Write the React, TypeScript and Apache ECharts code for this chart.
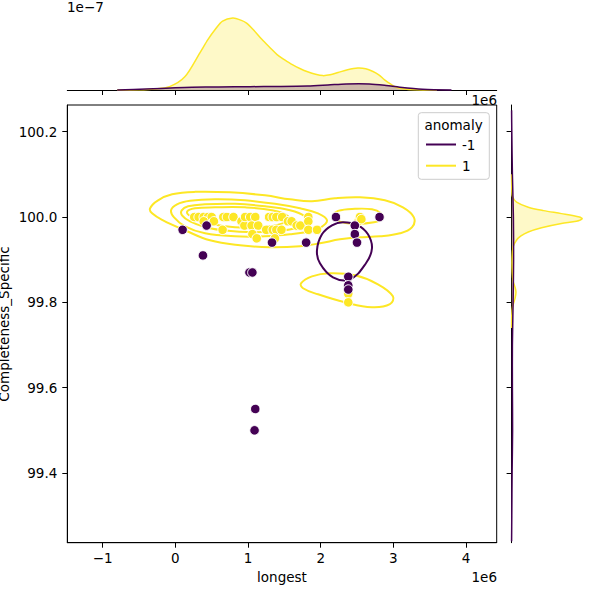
import React, { useEffect, useRef } from "react";
import * as echarts from "echarts";

// ---- data (longest in units of 1e6) ----
const anomalyNormal: number[][] = [
  [0.26, 100.0], [0.32, 100.0], [0.39, 100.0], [0.45, 100.0], [0.5, 100.0], [0.39, 99.99], [0.53, 99.99],
  [0.66, 100.0], [0.71, 100.0], [0.8, 100.0], [0.65, 99.97], [0.91, 99.99], [0.95, 99.98], [0.96, 100.0],
  [1.03, 100.0], [1.1, 100.0], [1.05, 99.98], [1.14, 99.98], [1.06, 99.96], [1.12, 99.95], [1.25, 99.97],
  [1.29, 100.0], [1.34, 100.0], [1.39, 100.0], [1.34, 99.97], [1.39, 99.97], [1.37, 99.95], [1.46, 99.97],
  [1.47, 100.0], [1.55, 99.99], [1.6, 99.99], [1.67, 99.98], [1.72, 99.98], [1.83, 100.0], [1.83, 99.99],
  [1.83, 99.97], [1.95, 99.97], [2.52, 99.99], [2.54, 100.0], [2.56, 99.995], [2.38, 99.82], [2.38, 99.8],
];
const anomalyOutlier: number[][] = [
  [0.1, 99.97], [0.43, 99.98], [0.38, 99.91], [1.33, 99.94], [1.02, 99.87], [1.06, 99.87], [1.8, 99.94],
  [2.21, 100.0], [2.81, 100.0], [2.47, 99.98], [2.47, 99.96], [2.5, 99.94], [2.38, 99.86], [2.38, 99.84],
  [2.38, 99.83], [1.1, 99.55], [1.09, 99.5],
];

// KDE contour lines
const contourNormalA: number[][] = [
  [-0.348, 100.0204], [-0.238, 100.0391], [-0.045, 100.0532], [0.271, 100.059], [0.752, 100.0578],
  [1.234, 100.0508], [1.578, 100.0415], [1.88, 100.0368], [2.197, 100.0438], [2.541, 100.0461],
  [2.884, 100.0391], [3.132, 100.0227], [3.283, 99.9993], [3.256, 99.9759], [3.091, 99.9618],
  [2.816, 99.9548], [2.513, 99.9525], [2.265, 99.9478], [1.99, 99.9384], [1.715, 99.9314],
  [1.303, 99.929], [0.89, 99.9337], [0.477, 99.9454], [0.133, 99.9689], [-0.169, 99.9922], [-0.32, 100.0087],
];
const contourNormalB: number[][] = [
  [-0.059, 100.0157], [0.023, 100.0297], [0.202, 100.0379], [0.546, 100.0415], [0.959, 100.0391],
  [1.371, 100.0309], [1.715, 100.0204], [1.963, 100.0087], [2.087, 99.9923], [2.004, 99.9759],
  [1.853, 99.9665], [1.578, 99.9595], [1.234, 99.9548], [0.821, 99.9548], [0.409, 99.9618],
  [0.133, 99.9782], [-0.018, 99.9993],
];
const contourNormalC: number[][] = [
  [0.088, 100.0157], [0.175, 100.0251], [0.409, 100.0297], [0.821, 100.0309], [1.234, 100.0251],
  [1.578, 100.0157], [1.784, 100.0016], [1.812, 99.9876], [1.647, 99.9735], [1.303, 99.9653],
  [0.89, 99.9653], [0.477, 99.9735], [0.202, 99.9899], [0.092, 100.004],
];
const contourNormalD: number[][] = [
  [0.161, 100.0122], [0.271, 100.0204], [0.546, 100.0227], [0.959, 100.0227], [1.33, 100.0157],
  [1.551, 100.0016], [1.509, 99.9876], [1.234, 99.977], [0.821, 99.9759], [0.45, 99.9852], [0.23, 99.9993],
];
const contourNormalF: number[][] = [
  [2.169, 100.004], [2.238, 100.0145], [2.472, 100.0192], [2.706, 100.018], [2.83, 100.0087],
  [2.857, 99.997], [2.733, 99.9876], [2.472, 99.9841], [2.265, 99.9888], [2.182, 99.997],
];
const contourNormalG: number[][] = [
  [1.729, 99.8447], [1.88, 99.861], [2.128, 99.8681], [2.472, 99.8634], [2.788, 99.8424],
  [2.994, 99.8143], [2.953, 99.7956], [2.706, 99.7885], [2.334, 99.8002], [1.963, 99.8189], [1.757, 99.833],
];
const contourOutlier: number[][] = [
  [2.307, 99.9876], [2.513, 99.9806], [2.651, 99.9595], [2.706, 99.9267], [2.623, 99.8916],
  [2.403, 99.8541], [2.169, 99.8588], [1.99, 99.8916], [1.949, 99.922], [2.018, 99.9595], [2.156, 99.9806],
];

// marginal densities (units of 1e-7 for x, arbitrary for y)
const topNormal: number[][] = [
  [-0.8, 0], [-0.5, 0.02], [-0.29, 0.1], [-0.08, 0.33], [0.13, 1.3], [0.34, 3.7], [0.45, 5.0], [0.55, 6.0],
  [0.65, 6.8], [0.79, 7.1], [0.9, 6.9], [0.98, 6.6], [1.08, 5.9], [1.19, 5.0], [1.3, 4.2], [1.4, 3.5],
  [1.5, 3.0], [1.61, 2.5], [1.72, 2.1], [1.82, 1.8], [1.93, 1.55], [2.03, 1.42], [2.13, 1.5], [2.24, 1.73],
  [2.37, 2.0], [2.51, 2.17], [2.62, 2.1], [2.72, 1.83], [2.8, 1.5], [2.88, 1.0], [2.96, 0.6], [3.04, 0.27],
  [3.15, 0.1], [3.3, 0.03], [3.6, 0],
];
const topOutlier: number[][] = [
  [-0.8, 0], [-0.4, 0.1], [0.0, 0.22], [0.23, 0.27], [0.6, 0.3], [1.03, 0.33], [1.4, 0.35], [1.82, 0.4],
  [2.1, 0.5], [2.35, 0.6], [2.67, 0.6], [2.9, 0.45], [3.09, 0.27], [3.4, 0.07], [3.8, 0],
];
const rightNormal: number[][] = [
  [0, 100.1], [0.03, 100.06], [0.1, 100.047], [0.5, 100.035], [1.67, 100.023], [3.2, 100.015],
  [5.0, 100.008], [6.8, 100.0], [7.07, 99.996], [6.5, 99.99], [5.0, 99.985], [3.0, 99.975], [1.67, 99.965],
  [0.9, 99.955], [0.47, 99.945], [0.15, 99.93], [0.05, 99.9], [0.07, 99.87], [0.15, 99.85], [0.35, 99.835],
  [0.44, 99.824], [0.35, 99.81], [0.1, 99.79], [0.02, 99.77], [0, 99.74],
];
const rightOutlier: number[][] = [
  [0, 100.25], [0.02, 100.2], [0.08, 100.1], [0.18, 100.0], [0.2, 99.9], [0.15, 99.8], [0.08, 99.7],
  [0.08, 99.6], [0.1, 99.5], [0.05, 99.4], [0.02, 99.3], [0, 99.24],
];

const xTicks = [-1, 0, 1, 2, 3, 4];
const yTicks = [99.4, 99.6, 99.8, 100.0, 100.2];
const legendTitle = "anomaly";
const legendLabels = ["-1", "1"];

const X_MIN = -1.487, X_MAX = 4.4225, Y_MIN = 99.2366, Y_MAX = 100.2626;
const PURPLE = "#440154", YELLOW = "#fde725";
const FONT = "DejaVu Sans";
const FS = 13.5;

function shapeSeries(pts: number[][], grid: number, kind: "polygon" | "polyline", style: any, z: number, smooth = 0.4) {
  return {
    type: "custom",
    coordinateSystem: "cartesian2d",
    xAxisIndex: grid,
    yAxisIndex: grid,
    data: pts,
    silent: true,
    clip: false,
    z,
    renderItem: (params: any, api: any) => {
      if (params.dataIndex !== 0) return null;
      return {
        type: kind,
        shape: { points: pts.map((p) => api.coord(p)), smooth },
        style,
      };
    },
  };
}

export default function App() {
  const ref = useRef<HTMLDivElement>(null);
  useEffect(() => {
    const chart = echarts.init(ref.current!, undefined, { renderer: "svg" });
    const tickFmtX = (v: number) => (v < 0 ? "\u2212" + Math.abs(v) : String(v));
    const hiddenAxis = { show: false };

    const closeTop = (c: number[][]) => [...c, [(c[0][0] + c[c.length - 1][0]) / 2, 0]];
    const closeRight = (c: number[][]) => [...c, [0, (c[0][1] + c[c.length - 1][1]) / 2]];

    const contourStyle = (c: string) => ({ fill: "none", stroke: c, lineWidth: 2 });
    const outline = (c: string) => ({ fill: "none", stroke: c, lineWidth: 1.5 });
    const area = (c: string) => ({ fill: c, opacity: 0.25 });
    const axisLineStyle = { show: true, onZero: false, lineStyle: { color: "#000", width: 1 } };

    const option: any = {
      animation: false,
      textStyle: { fontFamily: FONT },
      grid: [
        { left: 67.3, top: 105, width: 429.4, height: 437.7, show: true, borderColor: "#000", borderWidth: 1, backgroundColor: "transparent" },
        { left: 67.3, top: 14.5, width: 429.4, height: 75.5 },
        { left: 511.6, top: 105, width: 74, height: 437.7 },
      ],
      xAxis: [
        {
          gridIndex: 0, type: "value", min: X_MIN, max: X_MAX,
          axisLine: axisLineStyle,
          axisTick: { show: true, length: 5, customValues: xTicks, lineStyle: { color: "#000", width: 1 } },
          axisLabel: { show: true, customValues: xTicks, formatter: tickFmtX, color: "#000", fontSize: FS, fontFamily: FONT, margin: 8 },
          splitLine: { show: false },
        },
        {
          gridIndex: 1, type: "value", min: X_MIN, max: X_MAX,
          axisLine: axisLineStyle,
          axisTick: { show: true, length: 5, customValues: xTicks, lineStyle: { color: "#000", width: 1 } },
          axisLabel: { show: false },
          splitLine: { show: false },
        },
        { gridIndex: 2, type: "value", min: 0, max: 7.42, ...hiddenAxis },
      ],
      yAxis: [
        {
          gridIndex: 0, type: "value", min: Y_MIN, max: Y_MAX,
          axisLine: axisLineStyle,
          axisTick: { show: true, length: 5, customValues: yTicks, lineStyle: { color: "#000", width: 1 } },
          axisLabel: { show: true, customValues: yTicks, formatter: (v: number) => v.toFixed(1), color: "#000", fontSize: FS, fontFamily: FONT, margin: 10 },
          splitLine: { show: false },
        },
        { gridIndex: 1, type: "value", min: 0, max: 7.455, ...hiddenAxis },
        {
          gridIndex: 2, type: "value", min: Y_MIN, max: Y_MAX,
          axisLine: axisLineStyle,
          axisTick: { show: true, length: 5, customValues: yTicks, lineStyle: { color: "#000", width: 1 } },
          axisLabel: { show: false },
          splitLine: { show: false },
        },
      ],
      series: [
        shapeSeries(contourNormalA, 0, "polygon", contourStyle(YELLOW), 2),
        shapeSeries(contourNormalB, 0, "polygon", contourStyle(YELLOW), 2),
        shapeSeries(contourNormalC, 0, "polygon", contourStyle(YELLOW), 2),
        shapeSeries(contourNormalD, 0, "polygon", contourStyle(YELLOW), 2),
        shapeSeries(contourNormalF, 0, "polygon", contourStyle(YELLOW), 2),
        shapeSeries(contourNormalG, 0, "polygon", contourStyle(YELLOW), 2),
        shapeSeries(contourOutlier, 0, "polygon", contourStyle(PURPLE), 2),
        {
          type: "scatter", name: "1", xAxisIndex: 0, yAxisIndex: 0, data: anomalyNormal,
          symbolSize: 9.5, itemStyle: { color: YELLOW, borderColor: "#fff", borderWidth: 1, opacity: 1 }, z: 3,
        },
        {
          type: "scatter", name: "-1", xAxisIndex: 0, yAxisIndex: 0, data: anomalyOutlier,
          symbolSize: 9.5, itemStyle: { color: PURPLE, borderColor: "#fff", borderWidth: 1, opacity: 1 }, z: 3,
        },
        shapeSeries(closeTop(topNormal), 1, "polygon", area(YELLOW), 2, 0.3),
        shapeSeries(closeTop(topOutlier), 1, "polygon", area(PURPLE), 2, 0.3),
        shapeSeries(topNormal, 1, "polyline", outline(YELLOW), 3, 0.3),
        shapeSeries(topOutlier, 1, "polyline", outline(PURPLE), 3, 0.3),
        shapeSeries(closeRight(rightNormal), 2, "polygon", area(YELLOW), 2, 0.3),
        shapeSeries(closeRight(rightOutlier), 2, "polygon", area(PURPLE), 2, 0.3),
        shapeSeries(rightNormal, 2, "polyline", outline(YELLOW), 3, 0.3),
        shapeSeries(rightOutlier, 2, "polyline", outline(PURPLE), 3, 0.3),
      ],
      graphic: [
        { type: "text", x: 282, y: 577, style: { text: "longest", fill: "#000", font: `${FS}px "${FONT}"`, textAlign: "center", textVerticalAlign: "middle" } },
        { type: "text", x: 497, y: 577, style: { text: "1e6", fill: "#000", font: `${FS}px "${FONT}"`, textAlign: "right", textVerticalAlign: "middle" } },
        { type: "text", x: 497, y: 100, style: { text: "1e6", fill: "#000", font: `${FS}px "${FONT}"`, textAlign: "right", textVerticalAlign: "middle" } },
        { type: "text", x: 67, y: 7, style: { text: "1e\u22127", fill: "#000", font: `${FS}px "${FONT}"`, textAlign: "left", textVerticalAlign: "middle" } },
        { type: "text", x: 4, y: 324, rotation: Math.PI / 2, style: { text: "Completeness_Specific", fill: "#000", font: `${FS}px "${FONT}"`, textAlign: "center", textVerticalAlign: "middle" } },
        { type: "rect", shape: { x: 418.3, y: 112.7, width: 71, height: 66.6, r: 3 }, style: { fill: "rgba(255,255,255,0.8)", stroke: "#cccccc", lineWidth: 1 }, z: 10 },
        { type: "text", x: 453.5, y: 125, z: 11, style: { text: legendTitle, fill: "#000", font: `${FS}px "${FONT}"`, textAlign: "center", textVerticalAlign: "middle" } },
        { type: "line", shape: { x1: 426, y1: 144.5, x2: 456, y2: 144.5 }, style: { stroke: PURPLE, lineWidth: 2 }, z: 11 },
        { type: "text", x: 462, y: 144.5, z: 11, style: { text: legendLabels[0], fill: "#000", font: `${FS}px "${FONT}"`, textAlign: "left", textVerticalAlign: "middle" } },
        { type: "line", shape: { x1: 426, y1: 165.7, x2: 456, y2: 165.7 }, style: { stroke: YELLOW, lineWidth: 2 }, z: 11 },
        { type: "text", x: 462, y: 165.7, z: 11, style: { text: legendLabels[1], fill: "#000", font: `${FS}px "${FONT}"`, textAlign: "left", textVerticalAlign: "middle" } },
      ],
    };
    chart.setOption(option);
    return () => chart.dispose();
  }, []);
  return <div ref={ref} style={{ position: "fixed", left: 0, top: 0, width: 600, height: 600, background: "#fff" }} />;
}
